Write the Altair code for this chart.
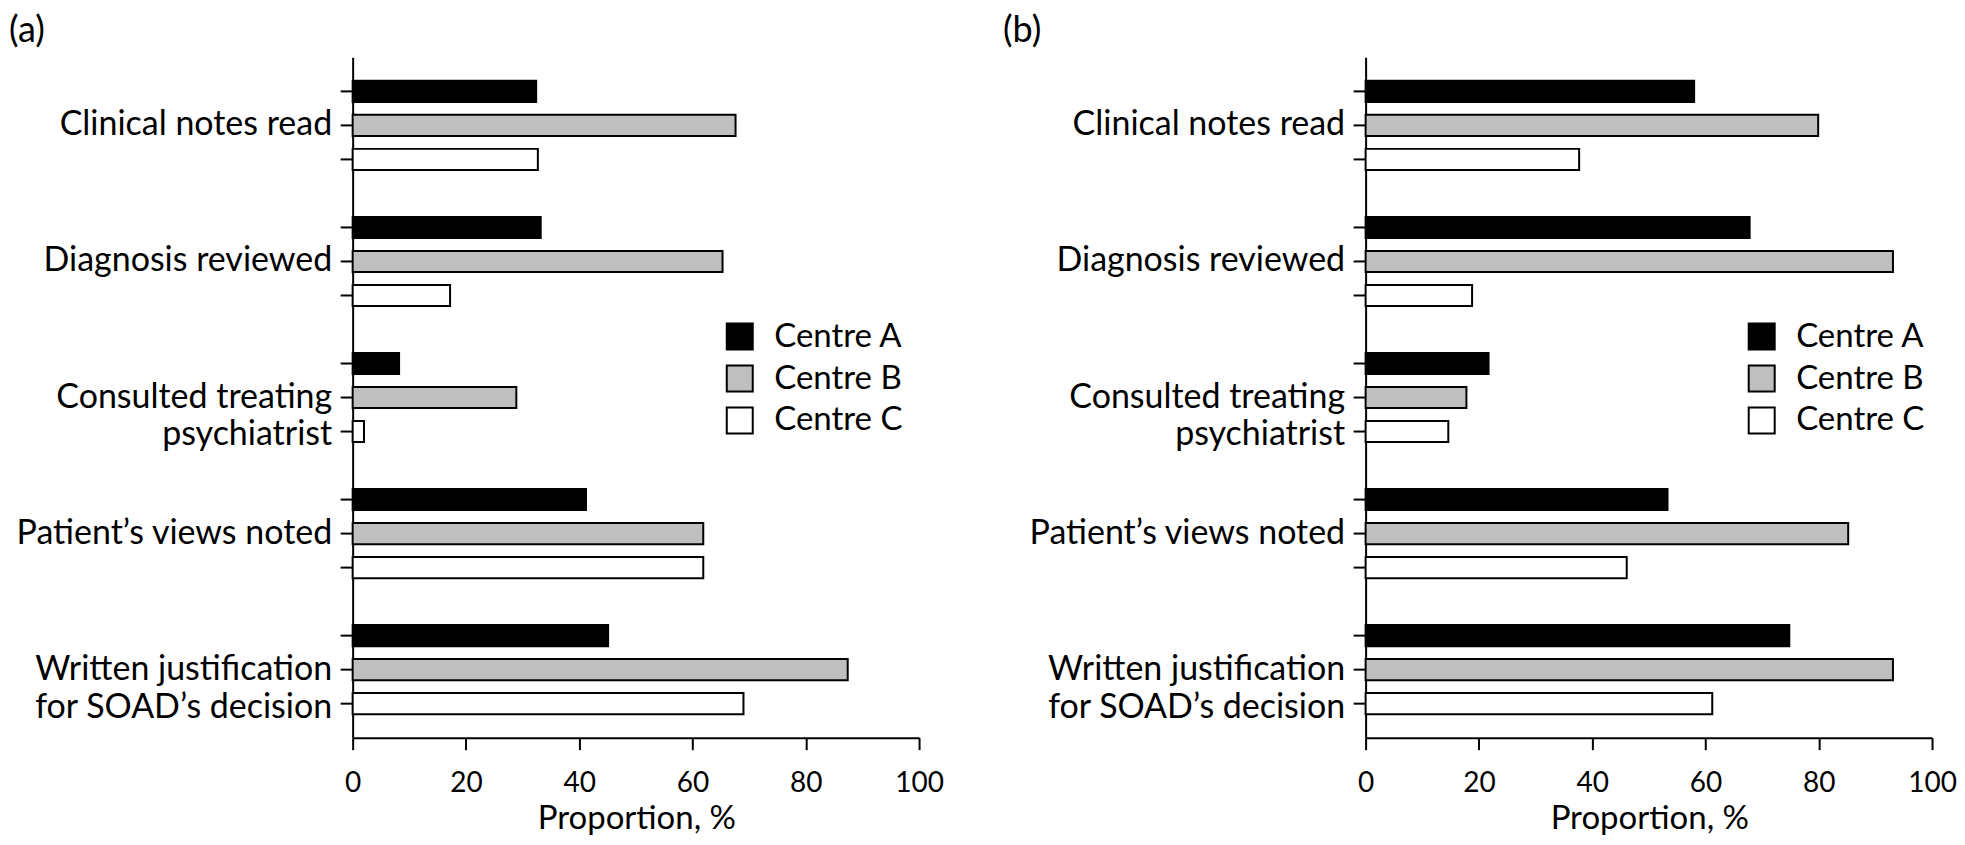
import altair as alt
import pandas as pd

items = [
    "Clinical notes read",
    "Diagnosis reviewed",
    "Consulted treating|psychiatrist",
    "Patient\u2019s views noted",
    "Written justification|for SOAD\u2019s decision",
]
centres = ["Centre A", "Centre B", "Centre C"]
fills = ["#000000", "#bfbfbf", "#ffffff"]

# Panel (a)
a_centre_a = [32.4, 33.2, 8.2, 41.2, 45.1]
a_centre_b = [67.6, 65.3, 28.9, 61.9, 87.4]
a_centre_c = [32.7, 17.2, 2.0, 61.9, 69.0]

# Panel (b)
b_centre_a = [58.0, 67.8, 21.7, 53.3, 74.8]
b_centre_b = [79.9, 93.1, 17.8, 85.2, 93.1]
b_centre_c = [37.7, 18.8, 14.6, 46.1, 61.2]

x_ticks = [0, 20, 40, 60, 80, 100]

FONT = "Lato"


def make_df(sa, sb, sc):
    rows = []
    for series, name in zip([sa, sb, sc], centres):
        for it, v in zip(items, series):
            rows.append({"item": it, "centre": name, "value": v})
    return pd.DataFrame(rows)


def panel(df, tag, title_dx, legend_x):
    ysc = alt.Scale(domain=items, paddingInner=0, paddingOuter=0)
    yoff = alt.Scale(domain=centres, paddingInner=0.38, paddingOuter=0.69)
    base = alt.Chart(df)
    bars = base.mark_bar(stroke="black", strokeWidth=2).encode(
        x=alt.X(
            "value:Q",
            scale=alt.Scale(domain=[0, 100], nice=False),
            axis=alt.Axis(
                values=x_ticks,
                title="Proportion, %",
                grid=False,
                domainColor="black",
                domainWidth=2,
                tickColor="black",
                tickWidth=2,
                tickSize=12,
                labelFont=FONT,
                labelFontSize=28,
                labelColor="black",
                labelBaseline="alphabetic",
                labelPadding=42,
                labelFlush=False,
                titleFont=FONT,
                titleFontSize=33,
                titleFontWeight="normal",
                titleColor="black",
                titleBaseline="alphabetic",
                titleAlign="center",
                titleX=284,
                titleY=91,
            ),
        ),
        y=alt.Y(
            "item:N",
            sort=items,
            scale=ysc,
            axis=alt.Axis(
                title=None,
                grid=False,
                domainColor="black",
                domainWidth=2,
                tickSize=12,
                tickOpacity=0,
                labelFont=FONT,
                labelFontSize=34,
                labelColor="black",
                labelPadding=9,
                labelLimit=0,
                labelLineHeight=38,
                labelExpr="split(datum.label, '|')",
            ),
        ),
        yOffset=alt.YOffset("centre:N", sort=centres, scale=yoff),
        fill=alt.Fill(
            "centre:N",
            sort=centres,
            scale=alt.Scale(domain=centres, range=fills),
            legend=alt.Legend(
                title=None,
                orient="none",
                legendX=legend_x,
                legendY=263,
                symbolType="square",
                symbolSize=676,
                symbolStrokeColor="black",
                symbolStrokeWidth=2,
                labelFont=FONT,
                labelFontSize=33,
                labelColor="black",
                labelOffset=18,
                rowPadding=7,
            ),
        ),
    )
    ticks = base.mark_rule(stroke="black", strokeWidth=2).encode(
        y=alt.Y("item:N", sort=items, scale=ysc),
        yOffset=alt.YOffset("centre:N", sort=centres, scale=yoff),
        x=alt.value(-12),
        x2=alt.value(0),
    )
    return alt.layer(bars, ticks).properties(
        width=567,
        height=681,
        title=alt.TitleParams(
            tag,
            anchor="start",
            frame="group",
            dx=title_dx,
            offset=7,
            font=FONT,
            fontSize=36,
            fontWeight="normal",
            color="black",
        ),
    )


left = panel(make_df(a_centre_a, a_centre_b, a_centre_c), "(a)", -344, 371)
right = panel(make_df(b_centre_a, b_centre_b, b_centre_c), "(b)", -363, 380)

chart = (
    alt.hconcat(left, right, spacing=447, bounds="flush")
    .resolve_scale(fill="independent")
    .resolve_legend(fill="independent")
    .properties(padding={"left": 0, "top": 4, "right": 0, "bottom": 0})
    .configure_view(stroke="transparent")
)

chart.save("out.html", embed_options={"renderer": "svg", "actions": False})
